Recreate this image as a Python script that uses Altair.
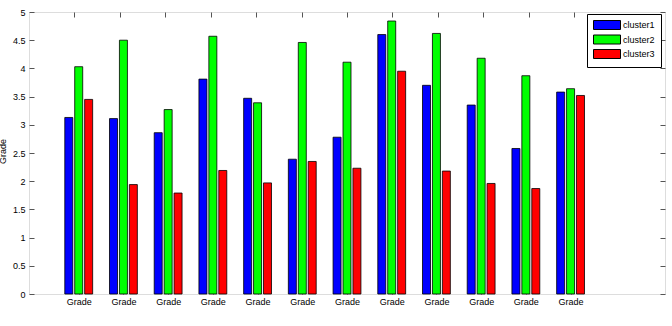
import altair as alt
import pandas as pd

groups = list(range(1, 13))
tick_label = "Grade"
cluster_names = ["cluster1", "cluster2", "cluster3"]
cluster1 = [3.13, 3.11, 2.86, 3.81, 3.47, 2.39, 2.78, 4.60, 3.70, 3.35, 2.58, 3.58]
cluster2 = [4.03, 4.50, 3.27, 4.57, 3.39, 4.46, 4.11, 4.84, 4.62, 4.18, 3.87, 3.64]
cluster3 = [3.45, 1.94, 1.79, 2.19, 1.97, 2.35, 2.23, 3.95, 2.18, 1.96, 1.87, 3.52]
colors = ["#0000FF", "#00FF00", "#FF0000"]

rows = []
for k, (name, vals) in enumerate(zip(cluster_names, [cluster1, cluster2, cluster3])):
    for g, v in zip(groups, vals):
        rows.append({"g": g, "k": k, "cluster": name, "value": v})
df = pd.DataFrame(rows)

FONT = "Liberation Sans"
AX = "#555555"
yvals = [i * 0.5 for i in range(11)]

base = alt.Chart(df).transform_calculate(
    xpos="datum.g + (datum.k - 1) * 0.222"
)

bars = base.mark_bar(size=8, stroke="black", strokeWidth=0.8).encode(
    x=alt.X("xpos:Q", scale=alt.Scale(domain=[0, 14], nice=False, zero=False),
            axis=alt.Axis(values=groups, labelExpr="'" + tick_label + "'", orient="bottom",
                          domain=False, grid=False, offset=-5, tickSize=5, tickColor=AX,
                          labelPadding=3, labelFont=FONT, labelFontSize=9, labelColor="black",
                          title=None)),
    y=alt.Y("value:Q", scale=alt.Scale(domain=[0, 5], nice=False),
            axis=alt.Axis(values=yvals, format="~g", orient="left", domain=False, grid=False,
                          offset=-5, tickSize=5, tickColor=AX, labelPadding=4,
                          labelFont=FONT, labelFontSize=9, labelColor="black",
                          title="Grade", titleFont=FONT, titleFontSize=9, titleFontWeight="normal",
                          titleColor="black", titleX=-29, titleY=139, titleAngle=-90,
                          titleBaseline="alphabetic")),
    color=alt.Color("cluster:N", sort=cluster_names,
                    scale=alt.Scale(domain=cluster_names, range=colors),
                    legend=alt.Legend(title=None, orient="none", legendX=558, legendY=2,
                                      symbolType="M-3,-1L3,-1L3,1L-3,1Z",
                                      symbolSize=81, symbolStrokeColor="black",
                                      symbolStrokeWidth=1, symbolOpacity=1,
                                      symbolOffset=9,
                                      labelFont=FONT, labelFontSize=9, labelColor="black",
                                      strokeColor="black", fillColor="white", padding=6,
                                      rowPadding=0.5, labelOffset=11)),
)

frame = base.mark_point(opacity=0).encode(
    x=alt.X("g:Q", scale=alt.Scale(domain=[0, 14], nice=False, zero=False),
            axis=alt.Axis(values=groups, labels=False, orient="top", domain=False, grid=False,
                          offset=-5, tickSize=5, tickColor=AX, title=None)),
    y=alt.Y("value:Q", scale=alt.Scale(domain=[0, 5], nice=False),
            axis=alt.Axis(values=yvals, labels=False, orient="right", domain=False, grid=False,
                          offset=-5, tickSize=5, tickColor=AX, title=None)),
)

chart = alt.layer(bars, frame).resolve_scale(x="independent", y="independent").properties(
    width=636, height=282,
    padding={"left": 29, "top": 12, "right": 7, "bottom": 32},
    autosize=alt.AutoSizeParams(type="none"),
).configure_view(stroke=AX, strokeWidth=1).configure(background="white")

chart.save("out.html", embed_options={"renderer": "svg", "actions": False})
